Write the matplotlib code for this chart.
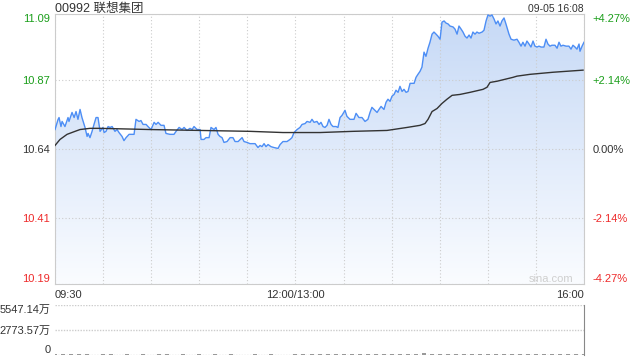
import numpy as np
import matplotlib.pyplot as plt
from matplotlib.colors import LinearSegmentedColormap

plt.rcParams['font.family'] = ['Liberation Sans', 'Noto Sans CJK SC', 'DejaVu Sans']

title = '00992 联想集团'
stamp = '09-05 16:08'
prev_close = 10.64
y_ticks = [10.19, 10.41, 10.64, 10.87, 11.09]
pct_labels = ['-4.27%', '-2.14%', '0.00%', '+2.14%', '+4.27%']
x_labels = ['09:30', '12:00/13:00', '16:00']
vol_ticks = [0, 2773.57, 5547.14]
vol_labels = ['0', '2773.57万', '5547.14万']

# 分钟(去掉午休) / 价格
t_price = [0.0, 1.9, 2.5, 3.7, 4.4, 6.2, 8.1, 8.7, 10.6, 11.9, 13.1, 14.3, 15.6, 16.8, 18.7,
           20.0, 20.6, 21.8, 23.1, 24.3, 25.6, 26.8, 28.1, 29.9, 30.6, 31.8, 33.1, 34.3, 35.6,
           37.4, 38.7, 39.9, 41.8, 43.0, 44.3, 46.2, 49.3, 50.5, 52.4, 53.6, 54.9, 56.8, 58.0,
           59.9, 61.8, 63.0, 64.3, 66.1, 68.0, 69.2, 71.7, 74.2, 75.5, 77.4, 79.2, 80.5, 82.3,
           84.2, 85.5, 86.7, 88.6, 90.5, 91.1, 92.9, 94.2, 96.1, 97.3, 99.2, 100.4, 101.7, 102.9,
           104.2, 105.4, 107.3, 109.2, 111.0, 112.3, 114.2, 116.7, 117.9, 119.8, 121.6, 124.8,
           126.6, 127.9, 129.1, 130.4, 131.6, 132.9, 134.7, 136.6, 139.1, 140.4, 142.2, 144.7,
           146.6, 147.8, 149.1, 151.0, 152.8, 154.1, 156.0, 157.2, 159.1, 160.3, 161.6, 163.4,
           164.7, 165.9, 167.2, 168.4, 169.7, 170.9, 172.2, 173.4, 175.3, 176.5, 177.8, 179.0,
           180.9, 182.1, 184.0, 186.5, 187.8, 189.6, 191.5, 193.4, 195.2, 196.5, 197.7, 199.0,
           200.9, 202.1, 203.4, 205.2, 206.5, 207.7, 209.0, 210.2, 211.5, 212.7, 214.0, 215.2,
           216.5, 217.7, 219.0, 220.2, 221.5, 222.7, 224.0, 225.2, 226.4, 227.7, 228.9, 230.2,
           231.4, 232.7, 233.9, 235.2, 236.4, 237.7, 238.9, 240.2, 241.4, 242.7, 243.9, 245.2,
           246.4, 248.3, 249.5, 250.8, 252.0, 253.3, 254.5, 255.8, 257.0, 258.3, 259.5, 260.7,
           262.0, 263.2, 264.5, 266.4, 267.6, 268.9, 270.1, 271.4, 272.6, 273.9, 275.1, 276.3,
           277.6, 278.8, 280.1, 281.3, 283.2, 284.5, 286.3, 288.2, 289.4, 290.7, 291.9, 293.2,
           294.4, 295.7, 296.9, 298.2, 299.4, 300.7, 301.9, 303.2, 305.0, 306.3, 307.5, 308.8,
           310.0, 311.9, 313.2, 314.4, 315.6, 316.9, 318.8, 320.6, 321.9, 323.1, 324.4, 325.6,
           326.9, 327.5, 328.8, 330.0]
price = [10.705, 10.739, 10.745, 10.715, 10.732, 10.715, 10.745, 10.732, 10.762, 10.745, 10.765,
         10.739, 10.772, 10.745, 10.712, 10.682, 10.692, 10.678, 10.699, 10.722, 10.745, 10.745,
         10.699, 10.712, 10.695, 10.699, 10.715, 10.712, 10.715, 10.699, 10.705, 10.695, 10.682,
         10.668, 10.678, 10.689, 10.689, 10.739, 10.732, 10.735, 10.722, 10.722, 10.715, 10.705,
         10.729, 10.722, 10.729, 10.719, 10.719, 10.692, 10.689, 10.689, 10.699, 10.712, 10.705,
         10.712, 10.702, 10.709, 10.705, 10.715, 10.705, 10.705, 10.672, 10.672, 10.678, 10.678,
         10.712, 10.705, 10.712, 10.689, 10.682, 10.678, 10.662, 10.665, 10.678, 10.678, 10.665,
         10.665, 10.678, 10.665, 10.662, 10.658, 10.658, 10.645, 10.652, 10.648, 10.658, 10.648,
         10.655, 10.648, 10.645, 10.642, 10.655, 10.665, 10.665, 10.672, 10.678, 10.695, 10.705,
         10.712, 10.722, 10.725, 10.732, 10.729, 10.739, 10.729, 10.732, 10.722, 10.729, 10.715,
         10.712, 10.719, 10.739, 10.722, 10.715, 10.715, 10.712, 10.745, 10.752, 10.769, 10.749,
         10.739, 10.739, 10.759, 10.745, 10.745, 10.732, 10.739, 10.762, 10.779, 10.772, 10.762,
         10.772, 10.782, 10.772, 10.796, 10.806, 10.799, 10.816, 10.822, 10.836, 10.829, 10.849,
         10.832, 10.839, 10.829, 10.832, 10.859, 10.859, 10.859, 10.879, 10.889, 10.899, 10.913,
         10.963, 10.949, 10.976, 10.996, 11.023, 11.030, 11.023, 11.016, 11.006, 11.063, 11.067,
         11.060, 11.057, 11.050, 11.047, 11.040, 11.023, 11.050, 11.040, 11.030, 11.016, 11.010,
         11.020, 11.010, 11.030, 11.023, 11.030, 11.026, 11.030, 11.036, 11.067, 11.087, 11.083,
         11.087, 11.073, 11.057, 11.067, 11.050, 11.067, 11.077, 11.057, 11.023, 11.006, 11.003,
         11.006, 10.996, 10.983, 10.996, 10.983, 11.000, 10.990, 10.980, 11.000, 10.983, 10.980,
         10.983, 10.980, 10.980, 11.006, 10.990, 10.983, 10.986, 10.986, 10.976, 10.996, 10.983,
         10.986, 10.983, 10.983, 10.973, 10.986, 10.980, 10.973, 10.990, 10.966, 10.983, 10.996]

t_avg = [0, 3.1, 7.5, 12.5, 15.6, 21.8, 28.1, 59.3, 90.5, 121.6, 142.2, 165.3, 185.9, 207.1,
         219.6, 227.7, 230.8, 232.7, 235.2, 238.3, 241.4, 244.5, 247.7, 252.6, 258.9, 267.0,
         269.5, 271.4, 275.7, 285.7, 288.2, 296.3, 310.7, 329.4]
avg = [10.652, 10.672, 10.689, 10.699, 10.705, 10.709, 10.709, 10.705, 10.702, 10.699, 10.695,
       10.695, 10.699, 10.702, 10.712, 10.719, 10.725, 10.739, 10.765, 10.775, 10.792, 10.806,
       10.819, 10.822, 10.829, 10.839, 10.846, 10.862, 10.866, 10.879, 10.883, 10.889, 10.896,
       10.903]

# 成交量(万), 每5分钟
t_vol = list(range(0, 331, 5))
volume = [110, 70, 60, 80, 60, 50, 70, 60, 50, 60, 50, 60, 50, 60, 60, 50, 60, 50, 60, 50,
          60, 50, 60, 50, 50, 60, 50, 60, 50, 50, 60, 70, 60, 70, 60, 70, 80, 70, 80, 90,
          80, 90, 80, 90, 100, 90, 260, 120, 90, 100, 90, 80, 90, 110, 90, 80, 90, 80, 90, 80,
          80, 70, 80, 70, 80, 90, 80]

grid_c = '#cccccc'
green = '#1a9e1a'
red = '#ee2a2a'

fig = plt.figure(figsize=(6.4, 3.6), dpi=100)
ax = fig.add_axes([0.086, 0.211, 0.8265, 0.75])
ax.set_xlim(0, 330)
ax.set_ylim(10.19, 11.09)

# 渐变填充
cmap = LinearSegmentedColormap.from_list('fill', ['#fafcff', '#c6d9f6'])
grad = np.linspace(0, 1, 256).reshape(-1, 1)
im = ax.imshow(grad, extent=[0, 330, 10.19, 11.09], origin='lower', aspect='auto',
               cmap=cmap, zorder=1)
poly = ax.fill_between(t_price, price, 10.19, facecolor='none', edgecolor='none')
im.set_clip_path(poly.get_paths()[0], transform=ax.transData)

ax.plot(t_price, price, color='#4d8ef5', lw=1.0, zorder=3)
ax.plot(t_avg, avg, color='#333333', lw=1.0, zorder=3)

ax.set_yticks(y_ticks)
ax.set_yticklabels(['%.2f' % v for v in y_ticks], fontsize=8)
for lbl, v in zip(ax.get_yticklabels(), y_ticks):
    lbl.set_color(green if v > prev_close else (red if v < prev_close else '#333333'))
yl = ax.get_yticklabels()
yl[0].set_va('bottom')
yl[-1].set_va('top')

ax.set_xticks(range(0, 331, 30))
xl = [''] * 12
xl[0], xl[5], xl[11] = x_labels
ax.set_xticklabels(xl, fontsize=8, color='#333333')
tl = ax.get_xticklabels()
tl[0].set_ha('left')
tl[11].set_ha('right')
ax.tick_params(length=0, pad=4)
ax.tick_params(axis='x', pad=4)
ax.grid(True, color=grid_c, linestyle=(0, (1, 2)), lw=0.8, zorder=2)
for s in ax.spines.values():
    s.set_color('#cccccc')

ax2 = ax.twinx()
ax2.set_ylim(10.19, 11.09)
ax2.set_yticks(y_ticks)
ax2.set_yticklabels(pct_labels, fontsize=8)
for lbl, v in zip(ax2.get_yticklabels(), y_ticks):
    lbl.set_color(green if v > prev_close else (red if v < prev_close else '#333333'))
rl = ax2.get_yticklabels()
rl[0].set_va('bottom')
rl[-1].set_va('top')
ax2.tick_params(length=0, pad=6)
for s in ax2.spines.values():
    s.set_visible(False)

ax.text(0.0, 1.007, title, transform=ax.transAxes, fontsize=9, color='#333333',
        ha='left', va='baseline')
ax.text(1.0, 1.007, stamp, transform=ax.transAxes, fontsize=7.5, color='#333333',
        ha='right', va='baseline')
ax.text(0.98, 0.0, 'sina.com', transform=ax.transAxes, fontsize=8, color='#cfcfcf',
        ha='right', va='bottom', zorder=4)

# 成交量
axv = fig.add_axes([0.086, 0.014, 0.8265, 0.139])
axv.bar(t_vol, volume, width=2.5, color='#999999', zorder=3)
axv.set_xlim(0, 330)
axv.set_ylim(0, 5547.14)
axv.set_yticks(vol_ticks)
axv.set_yticklabels(vol_labels, fontsize=8, color='#333333')
vl = axv.get_yticklabels()
vl[0].set_va('bottom')
vl[2].set_va('top')
axv.set_xticks([])
axv.tick_params(length=0, pad=3)
axv.grid(True, axis='y', color=grid_c, linestyle=(0, (1, 1)), lw=1.0)
for k in ['left', 'top', 'bottom']:
    axv.spines[k].set_visible(False)
axv.spines['right'].set_color('#888888')

fig.savefig('out.png', dpi=100)
